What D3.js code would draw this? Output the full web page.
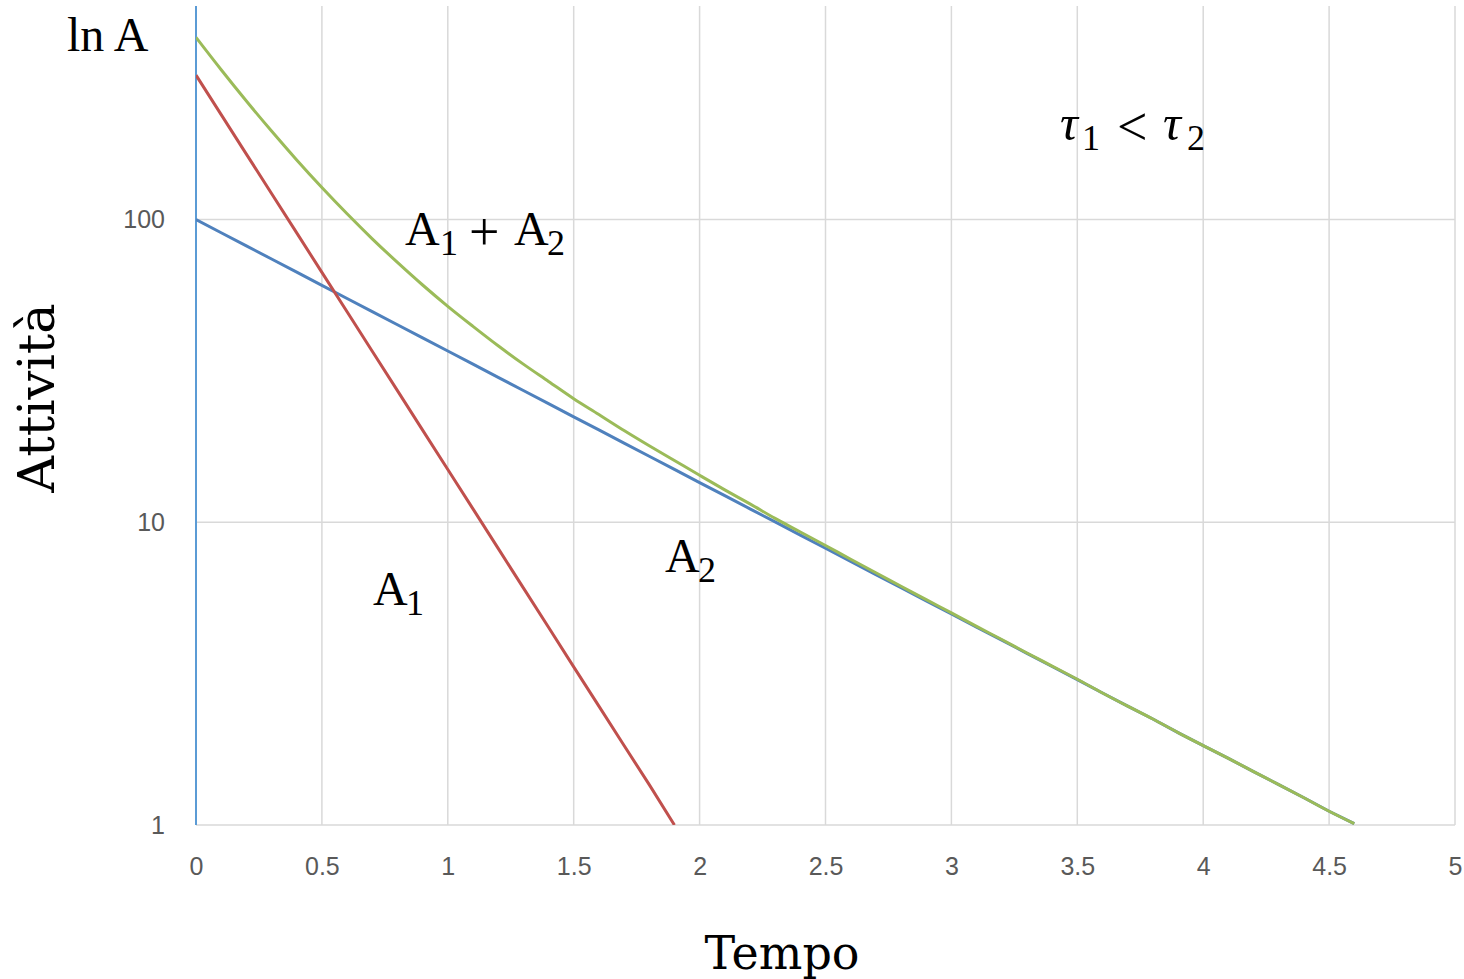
<!DOCTYPE html>
<html><head><meta charset="utf-8">
<script src="https://cdn.jsdelivr.net/npm/d3@7"></script>
<style>body{margin:0;background:#fff;}svg{display:block;}</style>
</head><body>
<script>
const time = [0,0.1,0.2,0.3,0.4,0.5,0.6,0.7,0.8,0.9,1.0,1.1,1.2,1.3,1.4,1.5,1.6,1.7,1.8,1.9,2.0,2.1,2.2,2.3,2.4,2.5,2.6,2.7,2.8,2.9,3.0,3.1,3.2,3.3,3.4,3.5,3.6,3.7,3.8,3.9,4.0,4.1,4.2,4.3,4.4,4.5,4.6];
const a1 = [300,222.2,164.6,122.0,90.36,66.94,49.59,36.74,27.22,20.16,14.94,11.07,8.20,6.07,4.50,3.33,2.47,1.83,1.36,1.0];
const a2 = [100,90.48,81.87,74.08,67.03,60.65,54.88,49.66,44.93,40.66,36.79,33.29,30.12,27.25,24.66,22.31,20.19,18.27,16.53,14.96,13.53,12.25,11.08,10.03,9.07,8.21,7.43,6.72,6.08,5.50,4.98,4.50,4.08,3.69,3.34,3.02,2.73,2.47,2.24,2.02,1.83,1.66,1.50,1.36,1.23,1.11,1.01];
const aSum = [400,312.7,246.5,196.1,157.4,127.6,104.5,86.4,72.2,60.8,51.7,44.4,38.3,33.3,29.2,25.6,22.7,20.1,17.9,16.0,14.3,12.8,11.5,10.3,9.29,8.38,7.55,6.81,6.15,5.55,5.02,4.53,4.10,3.70,3.35,3.03,2.73,2.47,2.24,2.02,1.83,1.66,1.50,1.36,1.23,1.11,1.01];
const xTicks = [0,0.5,1,1.5,2,2.5,3,3.5,4,4.5,5];
const xTickLabels = ["0","0.5","1","1.5","2","2.5","3","3.5","4","4.5","5"];
const yTicks = [1,10,100];
const yTickLabels = ["1","10","100"];

const W = 1464, H = 979;
const L = 196, R = 1455, T = 6, B = 825;
const svg = d3.select("body").append("svg").attr("width", W).attr("height", H);
const x = d3.scaleLinear().domain([0,5]).range([L,R]);
const y = d3.scaleLog().domain([1,500]).range([B,T+2]);

// grid
svg.append("g").selectAll("line").data(xTicks.slice(1)).join("line")
  .attr("x1", d=>x(d)).attr("x2", d=>x(d)).attr("y1", T).attr("y2", B)
  .attr("stroke", "#d9d9d9").attr("stroke-width", 1.5);
svg.append("g").selectAll("line").data(yTicks).join("line")
  .attr("x1", L).attr("x2", R).attr("y1", d=>y(d)).attr("y2", d=>y(d))
  .attr("stroke", "#d9d9d9").attr("stroke-width", 1.5);

// axes
const tickFont = "Liberation Sans, Arial, sans-serif";
const xAxis = svg.append("g").attr("transform", `translate(0,${B})`)
  .call(d3.axisBottom(x).tickValues(xTicks).tickFormat((d,i)=>xTickLabels[i]).tickSize(0).tickPadding(32));
xAxis.select(".domain").remove();
xAxis.selectAll("text").attr("font-family",tickFont).attr("font-size",25).attr("fill","#595959");
const yAxis = svg.append("g").attr("transform", `translate(${L},0)`)
  .call(d3.axisLeft(y).tickValues(yTicks).tickFormat((d,i)=>yTickLabels[i]).tickSize(0).tickPadding(31));
yAxis.select(".domain").remove();
yAxis.selectAll("text").attr("font-family",tickFont).attr("font-size",25).attr("fill","#595959");

// y axis line (blue)
svg.append("line").attr("x1",L).attr("x2",L).attr("y1",T).attr("y2",B)
  .attr("stroke","#5b9bd5").attr("stroke-width",2);

// clip
svg.append("clipPath").attr("id","clip").append("rect")
  .attr("x",L).attr("y",T).attr("width",R-L).attr("height",B-T);
const lineStraight = d3.line().x((d,i)=>x(time[i])).y(d=>y(d));
const lineSmooth = d3.line().x((d,i)=>x(time[i])).y(d=>y(d)).curve(d3.curveMonotoneX);
const g = svg.append("g").attr("clip-path","url(#clip)");
g.append("path").datum(a2).attr("d",lineStraight).attr("fill","none").attr("stroke","#4f81bd").attr("stroke-width",3);
g.append("path").datum(a1).attr("d",lineStraight).attr("fill","none").attr("stroke","#c0504d").attr("stroke-width",3);
g.append("path").datum(aSum).attr("d",lineSmooth).attr("fill","none").attr("stroke","#9bbb59").attr("stroke-width",3);

// titles
const serif = "DejaVu Serif, Liberation Serif, serif";
svg.append("text").attr("x",782).attr("y",969).attr("text-anchor","middle")
  .attr("font-family",serif).attr("font-size",46).attr("fill","#000").text("Tempo");
svg.append("text").attr("transform","translate(54,398) rotate(-90)").attr("text-anchor","middle")
  .attr("font-family",serif).attr("font-size",51).attr("fill","#000").text("Attività");
svg.append("text").attr("x",67).attr("y",51)
  .attr("font-family","Liberation Serif, serif").attr("font-size",48).attr("fill","#000").text("ln A");

const mathF = "Liberation Serif, DejaVu Serif, serif";
function part(xp, yp, txt, size, italic){
  svg.append("text").attr("x",xp).attr("y",yp).attr("font-family",mathF)
    .attr("font-size",size).attr("font-style",italic?"italic":"normal").attr("fill","#000").text(txt);
}
// A1 + A2
part(405,245,"A",48); part(440,255,"1",36);
part(469,250,"+",54);
part(514,245,"A",48); part(547,255,"2",36);
// A2
part(665,572,"A",48); part(698,582,"2",36);
// A1
part(373,605,"A",48); part(406,615,"1",36);
// tau1 < tau2
part(1060,140,"τ",50,true); part(1082,150,"1",36);
part(1117,145,"<",54);
part(1163,140,"τ",50,true); part(1187,150,"2",36);
</script>
</body></html>
